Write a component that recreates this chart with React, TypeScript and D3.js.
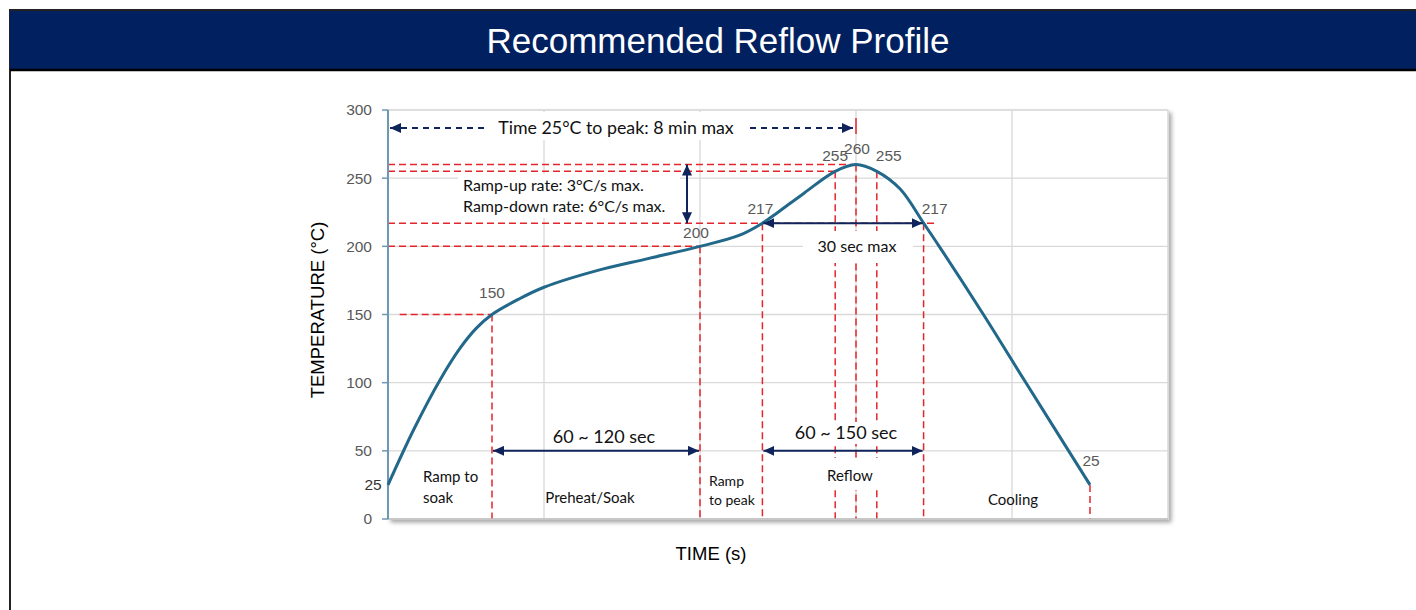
import React from "react";
import * as d3 from "d3";

// reflow curve (time in s, temperature in °C)
const times = [0, 10, 20, 28, 34, 40, 50, 60, 80, 100, 120, 135, 144, 150, 160, 172, 180, 188, 197, 206, 212, 229, 245, 270];
const temps = [25, 66, 102, 126, 140, 150, 161, 170, 182, 191, 200, 208, 217, 225, 239, 255, 260, 255, 242, 217, 200, 150, 101, 25];

const yTicks = [0, 50, 100, 150, 200, 250, 300];
const xGrid = [0, 60, 120, 180, 240, 300];

// labelled points on the curve
const markTimes = [0, 40, 120, 144, 172, 180, 188, 206, 270];
const markTemps = [25, 150, 200, 217, 255, 260, 255, 217, 25];

// horizontal red guides: temperature, from time, to time
const guideTemps = [260, 255, 217, 200, 150];
const guideFrom = [0, 0, 0, 0, 4.5];
const guideTo = [180, 172, 211, 120, 40];

const regionNames = ["Ramp to\nsoak", "Preheat/Soak", "Ramp\nto peak", "Reflow", "Cooling"];

const W = 1416;
const H = 610;
const plot = { left: 388, right: 1168, top: 110, bottom: 519 };

const NAVY = "#10245c";
const RED = "#e4262c";
const GRID = "#d9d9d9";
const LINE = "#21688a";
const TICK = "#595959";
const SANS = "'Liberation Sans', Arial, sans-serif";
const CAL = "Lato, 'Noto Sans', sans-serif";

export default function App() {
  const x = d3.scaleLinear().domain([0, 300]).range([plot.left, plot.right]);
  const y = d3.scaleLinear().domain([0, 300]).range([plot.bottom, plot.top]);

  const pts: [number, number][] = times.map((t, i) => [t, temps[i]]);
  const path = d3
    .line<[number, number]>()
    .x((d) => x(d[0]))
    .y((d) => y(d[1]))
    .curve(d3.curveCatmullRom.alpha(0.5))(pts);

  // label offsets for each marked point (dx, dy)
  const labelOff: [number, number][] = [
    [-15, 0], [0, -22], [-4, -14], [-2, -15], [0, -16], [1, -16], [12, -16], [11, -15], [1, -24],
  ];

  const dashRed = { stroke: RED, strokeWidth: 1.5, strokeDasharray: "7,4", fill: "none" };

  return (
    <svg width={W} height={H} style={{ position: "absolute", left: 0, top: 0, background: "#fff" }}>
      <defs>
        <marker id="ah" viewBox="0 0 11 10" refX="11" refY="5" markerWidth="11" markerHeight="10"
          markerUnits="userSpaceOnUse" orient="auto-start-reverse">
          <path d="M0,0 L11,5 L0,10 z" fill={NAVY} />
        </marker>
        <filter id="shadow" x="-5%" y="-5%" width="110%" height="115%">
          <feDropShadow dx="3" dy="3" stdDeviation="2" floodColor="#000" floodOpacity="0.35" />
        </filter>
      </defs>

      {/* frame and title bar */}
      <rect x={10} y={10} width={W + 10} height={H + 10} fill="#fff" stroke="#222" strokeWidth={2} />
      <rect x={10} y={11} width={W} height={58} fill="#002060" />
      <line x1={10} x2={W} y1={70} y2={70} stroke="#000" strokeWidth={2.5} />
      <text x={718} y={53} textAnchor="middle" fill="#fff" fontFamily={SANS} fontSize={35}>
        Recommended Reflow Profile
      </text>

      {/* plot area */}
      <rect x={plot.left} y={plot.top} width={plot.right - plot.left} height={plot.bottom - plot.top}
        fill="#fff" stroke="#e0e0e0" filter="url(#shadow)" />
      {yTicks.map((v) => (
        <line key={"gy" + v} x1={plot.left} x2={plot.right} y1={y(v)} y2={y(v)} stroke={GRID} strokeWidth={1.3} />
      ))}
      {xGrid.map((v) => (
        <line key={"gx" + v} x1={x(v)} x2={x(v)} y1={plot.top} y2={plot.bottom} stroke={GRID} strokeWidth={1.3} />
      ))}

      {/* white boxes behind text blocks */}
      <rect x={488} y={112} width={257} height={28} fill="#fff" />
      <rect x={458} y={174} width={222} height={44} fill="#fff" />

      {/* horizontal red guides */}
      {guideTemps.map((v, i) => (
        <line key={"hg" + i} x1={x(guideFrom[i])} x2={x(guideTo[i])} y1={y(v)} y2={y(v)} {...dashRed} />
      ))}
      {/* vertical red guides */}
      {markTimes.map((t, i) => (
        <line key={"vg" + i} x1={x(t)} x2={x(t)} y1={y(markTemps[i])} y2={plot.bottom} {...dashRed} />
      ))}
      <line x1={x(180)} x2={x(180)} y1={118} y2={134} stroke={RED} strokeWidth={1.5} />

      {/* boxes behind labels that cut through guides */}
      <rect x={803} y={231} width={110} height={32} fill="#fff" />
      <rect x={795} y={422} width={104} height={22} fill="#fff" />
      <rect x={815} y={458} width={70} height={32} fill="#fff" />

      {/* axes */}
      <line x1={plot.left} x2={plot.right} y1={plot.bottom} y2={plot.bottom} stroke="#bfbfbf" strokeWidth={1.5} />
      <line x1={plot.left} x2={plot.left} y1={plot.top} y2={plot.bottom} stroke="#6e98b3" strokeWidth={2} />
      {yTicks.map((v) => (
        <g key={"yt" + v}>
          <line x1={plot.left - 6} x2={plot.left} y1={y(v)} y2={y(v)} stroke="#6e98b3" strokeWidth={1.5} />
          <text x={372} y={y(v)} dy="0.35em" textAnchor="end" fill={TICK} fontFamily={SANS} fontSize={15.5}>
            {v}
          </text>
        </g>
      ))}

      {/* curve */}
      <path d={path ?? ""} fill="none" stroke={LINE} strokeWidth={3} />

      {/* point labels */}
      {markTimes.map((t, i) => (
        <text key={"pl" + i} x={x(t) + labelOff[i][0]} y={y(markTemps[i]) + labelOff[i][1]} dy="0.35em"
          textAnchor="middle" fill={i === 0 ? "#333" : TICK} fontFamily={SANS} fontSize={15.5}>
          {markTemps[i]}
        </text>
      ))}

      {/* top dashed arrow: time 25°C to peak */}
      <line x1={x(0) + 2} x2={485} y1={128} y2={128} stroke={NAVY} strokeWidth={1.8} strokeDasharray="6,5"
        markerStart="url(#ah)" />
      <line x1={750} x2={x(180) - 3} y1={128} y2={128} stroke={NAVY} strokeWidth={1.8} strokeDasharray="6,5"
        markerEnd="url(#ah)" />
      <text x={616} y={128} dy="0.35em" textAnchor="middle" fill="#111" fontFamily={CAL} fontSize={17.8}>
        Time 25°C to peak: 8 min max
      </text>

      {/* ramp rates */}
      <line x1={x(115)} x2={x(115)} y1={y(260)} y2={y(217)} stroke={NAVY} strokeWidth={2}
        markerStart="url(#ah)" markerEnd="url(#ah)" />
      <text x={463} y={185} dy="0.35em" fill="#111" fontFamily={CAL} fontSize={16}>
        Ramp-up rate: 3°C/s max.
      </text>
      <text x={463} y={206} dy="0.35em" fill="#111" fontFamily={CAL} fontSize={16}>
        Ramp-down rate: 6°C/s max.
      </text>

      {/* 30 sec max */}
      <line x1={x(144) + 1} x2={x(206) - 1} y1={y(217)} y2={y(217)} stroke={NAVY} strokeWidth={2}
        markerStart="url(#ah)" markerEnd="url(#ah)" />
      <text x={857} y={246} dy="0.35em" textAnchor="middle" fill="#111" fontFamily={CAL} fontSize={16}>
        30 sec max
      </text>

      {/* duration arrows at 50°C */}
      <line x1={x(40) + 1} x2={x(120) - 1} y1={y(50)} y2={y(50)} stroke={NAVY} strokeWidth={2}
        markerStart="url(#ah)" markerEnd="url(#ah)" />
      <text x={604} y={437} dy="0.35em" textAnchor="middle" fill="#111" fontFamily={CAL} fontSize={18}>
        60 ~ 120 sec
      </text>
      <line x1={x(144) + 1} x2={x(206) - 1} y1={y(50)} y2={y(50)} stroke={NAVY} strokeWidth={2}
        markerStart="url(#ah)" markerEnd="url(#ah)" />
      <text x={846} y={433} dy="0.35em" textAnchor="middle" fill="#111" fontFamily={CAL} fontSize={18}>
        60 ~ 150 sec
      </text>

      {/* region names */}
      <text fill="#111" fontFamily={CAL} fontSize={15}>
        {regionNames[0].split("\n").map((s, i) => (
          <tspan key={i} x={423} y={477 + i * 21} dy="0.35em">{s}</tspan>
        ))}
      </text>
      <text x={590} y={498} dy="0.35em" textAnchor="middle" fill="#111" fontFamily={CAL} fontSize={15}>
        {regionNames[1]}
      </text>
      <text fill="#111" fontFamily={CAL} fontSize={14}>
        {regionNames[2].split("\n").map((s, i) => (
          <tspan key={i} x={709} y={481 + i * 19} dy="0.35em">{s}</tspan>
        ))}
      </text>
      <text x={850} y={476} dy="0.35em" textAnchor="middle" fill="#111" fontFamily={CAL} fontSize={15}>
        {regionNames[3]}
      </text>
      <text x={1013} y={500} dy="0.35em" textAnchor="middle" fill="#111" fontFamily={CAL} fontSize={15}>
        {regionNames[4]}
      </text>

      {/* axis titles */}
      <text transform="translate(318,310) rotate(-90)" dy="0.35em" textAnchor="middle" fill="#000"
        fontFamily={SANS} fontSize={18.5}>
        TEMPERATURE (°C)
      </text>
      <text x={711} y={554} dy="0.35em" textAnchor="middle" fill="#000" fontFamily={SANS} fontSize={18.5}>
        TIME (s)
      </text>
    </svg>
  );
}
